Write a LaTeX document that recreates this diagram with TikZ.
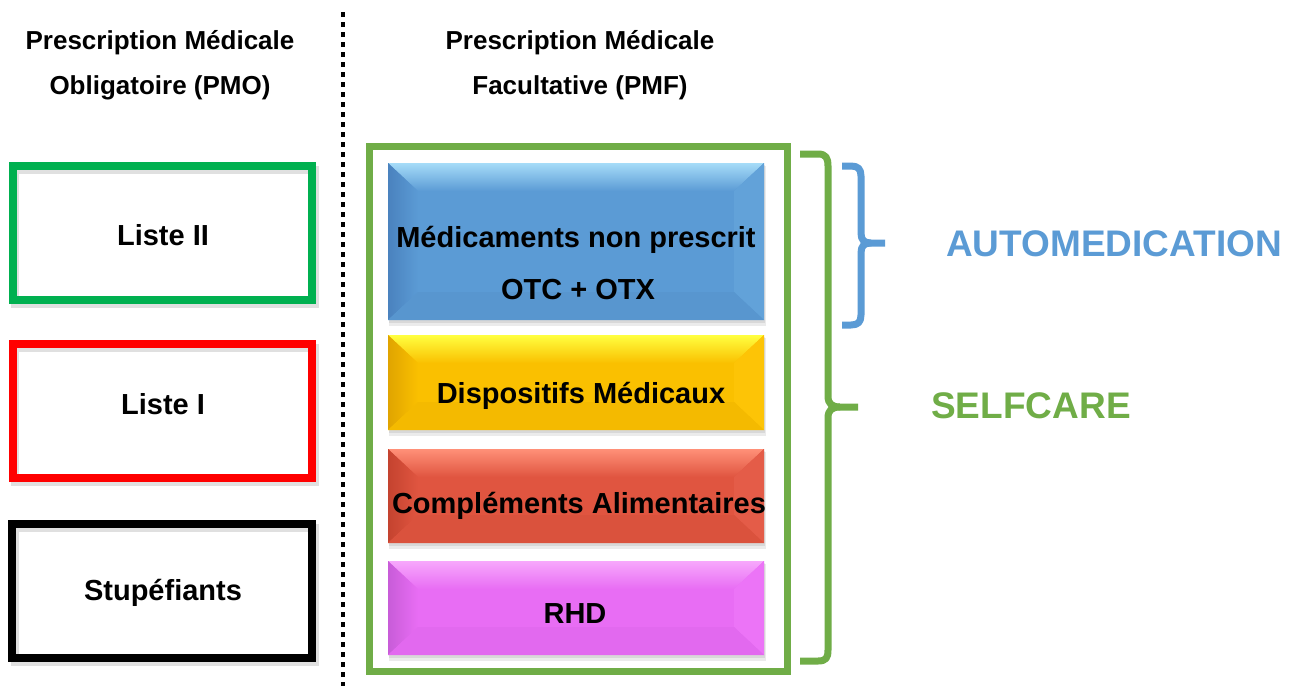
\documentclass[tikz,border=0pt]{standalone}
\usepackage{fontspec}
\setmainfont{Liberation Sans}
\usetikzlibrary{calc}
\definecolor{lgreen}{HTML}{00B050}
\definecolor{lred}{HTML}{FF0000}
\definecolor{ogreen}{HTML}{70AD47}
\definecolor{autoblue}{HTML}{5B9BD5}
% blue box
\definecolor{bluM}{HTML}{5B9BD5}
\definecolor{bluT}{HTML}{A6DCF8}
\definecolor{bluL}{HTML}{4A82BE}
\definecolor{bluR}{HTML}{62A2D9}
\definecolor{bluB}{HTML}{5896CF}
% yellow box
\definecolor{yelM}{HTML}{FAC000}
\definecolor{yelT}{HTML}{FFFF40}
\definecolor{yelL}{HTML}{E0A400}
\definecolor{yelR}{HTML}{FDC406}
\definecolor{yelB}{HTML}{F4BA00}
% red box
\definecolor{redM}{HTML}{E05540}
\definecolor{redT}{HTML}{FF9078}
\definecolor{redL}{HTML}{C4432F}
\definecolor{redR}{HTML}{E45C48}
\definecolor{redB}{HTML}{DA523D}
% magenta box
\definecolor{magM}{HTML}{E86DF4}
\definecolor{magT}{HTML}{F7A8FC}
\definecolor{magL}{HTML}{C85CD8}
\definecolor{magR}{HTML}{EC74F7}
\definecolor{magB}{HTML}{E269EF}
\newcommand\bevbox[5]{%
  \fill[black, opacity=0.08] (#1+1,#2+3) rectangle (#3+2,#4+6);
  \fill[black, opacity=0.08] (#1+1,#2+2) rectangle (#3+1,#4+3);
  \fill[#5M] (#1,#2) rectangle (#3,#4);
  \shade[top color=#5T, bottom color=#5M] (#1,#2) -- (#3,#2) -- (#3-30,#2+28) -- (#1+30,#2+28) -- cycle;
  \shade[left color=#5L, right color=#5M] (#1,#2) -- (#1+30,#2+28) -- (#1+30,#4-28) -- (#1,#4) -- cycle;
  \fill[#5R] (#3,#2) -- (#3-30,#2+28) -- (#3-30,#4-28) -- (#3,#4) -- cycle;
  \fill[#5B] (#1,#4) -- (#1+30,#4-28) -- (#3-30,#4-28) -- (#3,#4) -- cycle;
}
\tikzset{
  lbl/.style={font=\bfseries\fontsize{29}{34}\selectfont, anchor=base, inner sep=0pt},
  hdr/.style={font=\bfseries\fontsize{26}{30}\selectfont, anchor=base, inner sep=0pt},
  bigtxt/.style={font=\bfseries\fontsize{37}{44}\selectfont, anchor=base, inner sep=0pt},
  frm/.style={line width=8pt},
  frmshadow/.style={line width=8pt, draw=black, opacity=0.12},
  brace/.style={line width=7pt, line cap=butt, line join=round},
}
\begin{document}
\begin{tikzpicture}[x=1pt, y=-1pt]
\useasboundingbox (0,0) rectangle (1302,686);
\fill[white] (0,0) rectangle (1302,686);

% dotted separator
\coordinate (sepT) at (343,12);
\coordinate (sepB) at (343,686);
\draw[line width=4.5pt, dash pattern=on 4.5pt off 5.5pt] (sepT) -- (sepB);

% headers
\node[hdr] (h1a) at (160,49) {Prescription Médicale};
\node[hdr] (h1b) at (160,94) {Obligatoire (PMO)};
\node[hdr] (h2a) at (580,49) {Prescription Médicale};
\node[hdr] (h2b) at (580,94) {Facultative (PMF)};

% left boxes
\draw[frmshadow] (15,170) rectangle (315,304);
\draw[frm, draw=lgreen] (13,166) rectangle (312,300);
\node[lbl] (l2) at (163,245) {Liste II};

\draw[frmshadow] (15,348) rectangle (315,482);
\draw[frm, draw=lred] (13,344) rectangle (312,478);
\node[lbl] (l1) at (163,414) {Liste I};

\draw[frmshadow] (15,528) rectangle (315,662);
\draw[frm, draw=black] (12,524) rectangle (312,658);
\node[lbl] (stu) at (163,600) {Stupéfiants};

% right column
\draw[line width=7pt, draw=ogreen] (369,146) rectangle (787,671);

\bevbox{388}{163}{764}{320}{blu}
\bevbox{388}{335}{764}{430}{yel}
\bevbox{388}{449}{764}{543}{red}
\bevbox{388}{561}{764}{655}{mag}

\node[lbl] (med1) at (576,247) {Médicaments non prescrit};
\node[lbl] (med2) at (578,299) {OTC + OTX};
\node[lbl] (dis) at (581,403) {Dispositifs Médicaux};
\node[lbl] (com) at (579,513) {Compléments Alimentaires};
\node[lbl] (rhd) at (575,623) {RHD};

% braces
\draw[brace, draw=ogreen] (800,154) -- (818,154) .. controls (826,154) and (828,158) .. (828,166) -- (828,396) .. controls (828,404) and (832,407) .. (840,407) -- (858,407);
\draw[brace, draw=ogreen] (840,407) .. controls (832,407) and (828,410) .. (828,418) -- (828,650) .. controls (828,658) and (826,661) .. (818,661) -- (800,661);

\draw[brace, draw=autoblue] (842,166) -- (851,166) .. controls (858,166) and (861,169) .. (861,176) -- (861,233) .. controls (861,240) and (864,243) .. (871,243) -- (885,243);
\draw[brace, draw=autoblue] (871,243) .. controls (864,243) and (861,246) .. (861,253) -- (861,315) .. controls (861,322) and (858,325) .. (851,325) -- (842,325);

\node[bigtxt, text=autoblue] (auto) at (1114,256) {AUTOMEDICATION};
\node[bigtxt, text=ogreen] (self) at (1031,418) {SELFCARE};
\end{tikzpicture}
\end{document}
